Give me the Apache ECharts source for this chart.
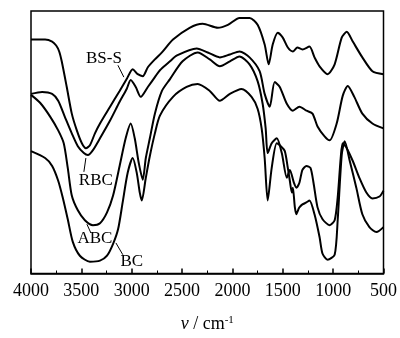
<!DOCTYPE html>
<html>
<head>
<meta charset="utf-8">
<script src="https://cdn.jsdelivr.net/npm/echarts@6/dist/echarts.min.js"></script>
<style>
  html, body { margin: 0; padding: 0; background: #fff; }
  #chart { width: 400px; height: 338px; }
</style>
</head>
<body>
<div id="chart"></div>
<script>
  // wavenumber (cm-1) / relative transmittance (arbitrary units)
  var bssData = [[4000,237],[3860,237],[3790,235],[3750,231],[3720,225],[3695,215],[3645,189],[3595,162],[3545,145],[3495,132],[3455,127],[3415,130],[3365,142],[3315,152],[3215,169],[3120,185],[3050,197],[2990,207],[2940,202],[2890,200],[2840,209],[2770,217],[2700,224],[2590,237],[2425,249],[2295,253],[2145,249],[2045,252],[1930,259],[1830,259],[1750,252],[1680,232],[1640,212],[1600,232],[1550,244],[1500,239],[1450,229],[1400,225],[1355,229],[1305,227],[1235,230],[1185,219],[1135,210],[1055,202],[985,212],[915,239],[865,245],[805,235],[710,219],[610,205],[500,202]];
  var rbcData = [[4000,182],[3890,184],[3790,182],[3730,175],[3665,159],[3595,142],[3535,129],[3475,122],[3435,120],[3385,125],[3315,137],[3215,155],[3120,174],[3050,187],[3010,196],[2960,189],[2910,179],[2840,189],[2770,199],[2720,206],[2620,215],[2550,221],[2355,228],[2245,224],[2125,219],[2025,222],[1930,225],[1830,219],[1730,205],[1680,182],[1630,169],[1580,194],[1530,189],[1460,172],[1400,165],[1335,169],[1265,165],[1205,162],[1155,149],[1085,139],[1035,135],[965,152],[905,180],[855,190],[790,179],[710,162],[610,152],[500,147]];
  var abcData = [[4000,181],[3910,173],[3810,159],[3730,145],[3675,132],[3635,107],[3595,79],[3535,64],[3465,54],[3385,49],[3315,51],[3245,62],[3185,79],[3120,109],[3060,137],[3010,152],[2970,137],[2930,112],[2890,95],[2860,117],[2820,137],[2770,162],[2700,185],[2620,197],[2495,215],[2345,224],[2225,217],[2125,210],[2025,215],[1930,220],[1830,212],[1750,195],[1700,172],[1670,147],[1650,122],[1610,132],[1560,137],[1510,122],[1460,97],[1430,105],[1390,92],[1365,87],[1335,92],[1305,105],[1265,109],[1225,107],[1195,92],[1155,67],[1105,55],[1035,49],[985,54],[955,77],[925,117],[905,132],[865,127],[805,114],[740,97],[670,82],[610,76],[540,78],[500,84]];
  var bcData = [[4000,124],[3860,117],[3790,109],[3730,94],[3685,77],[3635,55],[3585,32],[3515,18],[3415,12],[3315,13],[3245,18],[3185,30],[3135,45],[3090,72],[3040,102],[2990,117],[2950,102],[2920,82],[2900,74],[2860,97],[2820,119],[2770,142],[2720,160],[2590,179],[2455,189],[2345,192],[2225,185],[2125,175],[2025,182],[1910,187],[1810,179],[1750,167],[1710,147],[1680,117],[1650,74],[1610,107],[1560,132],[1520,129],[1480,124],[1450,107],[1430,94],[1410,82],[1400,87],[1380,67],[1365,60],[1345,65],[1335,67],[1305,70],[1265,72],[1235,74],[1185,60],[1135,37],[1105,20],[1055,14],[985,19],[955,54],[915,120],[885,134],[835,114],[770,87],[710,60],[640,47],[570,42],[500,47]];

  var seriesNames = ['BS-S', 'RBC', 'ABC', 'BC'];
  var seriesData = [bssData, rbcData, abcData, bcData];

  // curve labels: text anchor and leader line, in data coordinates
  var curveLabels = [
    {text: 'BS-S', at: [3276, 218], from: [3137, 211], to: [3078, 199]},
    {text: 'RBC', at: [3356, 94], from: [3475, 103], to: [3455, 117]},
    {text: 'ABC', at: [3365, 35], from: [3405, 41], to: [3445, 50]},
    {text: 'BC', at: [2999, 12], from: [3088, 19], to: [3157, 31]}
  ];

  var serif = '"Liberation Serif", "Times New Roman", serif';
  var myChart = echarts.init(document.getElementById('chart'), null, {renderer: 'canvas'});

  myChart.setOption({
    animation: false,
    backgroundColor: '#fff',
    grid: {
      left: 31,
      right: 16,
      top: 11,
      bottom: 61,
      show: true,
      borderColor: '#000',
      borderWidth: 1.5
    },
    xAxis: {
      type: 'value',
      inverse: true,
      min: 500,
      max: 4000,
      interval: 500,
      name: '{i|ν} / cm{sup|-1}',
      nameLocation: 'middle',
      nameGap: 41,
      nameTextStyle: {
        color: '#000',
        fontFamily: serif,
        fontSize: 18,
        rich: {
          i: {fontStyle: 'italic', fontFamily: serif, fontSize: 18, color: '#000'},
          sup: {fontFamily: serif, fontSize: 11, color: '#000', verticalAlign: 'top', padding: [0, 0, 8, 0]}
        }
      },
      axisLine: {lineStyle: {color: '#000', width: 1.5}},
      axisTick: {inside: true, length: 5, lineStyle: {color: '#000', width: 1.5}},
      minorTick: {show: true, splitNumber: 2, length: 3, lineStyle: {color: '#000', width: 1}},
      axisLabel: {
        color: '#000',
        fontFamily: serif,
        fontSize: 18,
        margin: 9,
        formatter: function (v) { return String(v); }
      },
      splitLine: {show: false}
    },
    yAxis: {
      type: 'value',
      min: 0,
      max: 266,
      show: false,
      splitLine: {show: false}
    },
    series: seriesData.map(function (d, i) {
      return {
        name: seriesNames[i],
        type: 'line',
        data: d,
        smooth: 0.25,
        showSymbol: false,
        lineStyle: {color: '#000', width: 2}
      };
    })
  });

  var graphics = [];
  curveLabels.forEach(function (lb) {
    var p = myChart.convertToPixel({gridIndex: 0}, lb.at);
    var a = myChart.convertToPixel({gridIndex: 0}, lb.from);
    var b = myChart.convertToPixel({gridIndex: 0}, lb.to);
    graphics.push({
      type: 'text',
      x: p[0],
      y: p[1],
      style: {text: lb.text, fill: '#000', font: '17px ' + serif, align: 'center', verticalAlign: 'middle'}
    });
    graphics.push({
      type: 'line',
      shape: {x1: a[0], y1: a[1], x2: b[0], y2: b[1]},
      style: {stroke: '#000', lineWidth: 1}
    });
  });
  myChart.setOption({graphic: graphics});
</script>
</body>
</html>
